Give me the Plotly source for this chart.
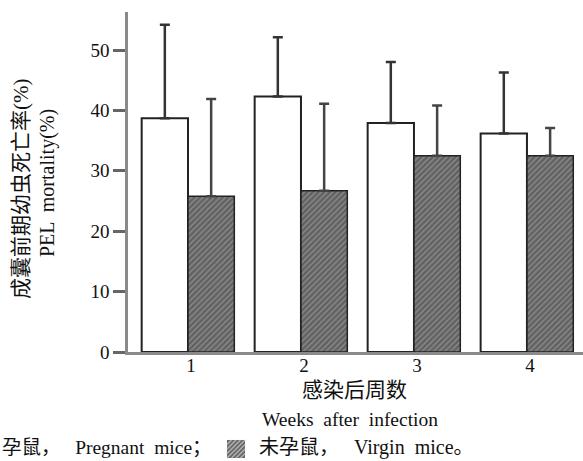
import plotly.graph_objects as go

weeks = [1, 2, 3, 4]
week_labels = ["1", "2", "3", "4"]
pregnant = [38.7, 42.3, 37.9, 36.2]
pregnant_err = [15.5, 9.8, 10.1, 10.1]
virgin = [25.8, 26.7, 32.5, 32.5]
virgin_err = [16.1, 14.4, 8.3, 4.6]

FONT = "Liberation Serif, Noto Sans CJK SC, serif"

W, H = 583, 461
L, R, T, B = 128, 0, 12, 109
pw = W - L - R
ph = H - T - B


def px(x):
    return (x - L) / pw


def py(y):
    return (H - B - y) / ph


fig = go.Figure()
fig.add_trace(go.Bar(
    x=weeks, y=pregnant, name="孕鼠， Pregnant mice",
    marker=dict(color="white", line=dict(color="#222", width=2)),
    error_y=dict(type="data", array=pregnant_err, symmetric=False,
                 arrayminus=[0] * 4, color="#333", thickness=2.5, width=5),
))
fig.add_trace(go.Bar(
    x=weeks, y=virgin, name="未孕鼠， Virgin mice",
    marker=dict(color="#636363", line=dict(color="#222", width=1.5),
                pattern=dict(shape="/", bgcolor="#626262", fgcolor="#bcbcbc",
                             size=4, solidity=0.3)),
    error_y=dict(type="data", array=virgin_err, symmetric=False,
                 arrayminus=[0] * 4, color="#444", thickness=2.5, width=5),
))

annotations = [
    dict(text="成囊前期幼虫死亡率(%)", x=px(21), y=py(189), textangle=-90,
         font=dict(size=21, family=FONT, color="#111")),
    dict(text="PEL  mortality(%)", x=px(47), y=py(183), textangle=-90,
         font=dict(size=20, family=FONT, color="#111")),
    dict(text="感染后周数", x=px(354), y=py(390),
         font=dict(size=21, family=FONT, color="#111")),
    dict(text="Weeks  after  infection", x=px(350), y=py(419),
         font=dict(size=19.5, family=FONT, color="#111")),
    dict(text="孕鼠，   Pregnant  mice；", x=px(0), y=py(448), xanchor="left",
         font=dict(size=19.5, family=FONT, color="#111")),
    dict(text="未孕鼠，   Virgin  mice。", x=px(257), y=py(448), xanchor="left",
         font=dict(size=20, family=FONT, color="#111")),
]
for a in annotations:
    a.setdefault("xanchor", "center")
    a.update(xref="paper", yref="paper", showarrow=False, yanchor="middle")

shapes = [dict(type="rect", xref="paper", yref="paper",
               x0=px(227), x1=px(245), y0=py(458), y1=py(440),
               fillcolor="#6a6a6a", line=dict(width=0))]
for k in range(-3, 5):
    x0 = 227 + k * 4.5
    shapes.append(dict(type="line", xref="paper", yref="paper",
                       x0=px(max(227, x0)), y0=py(458 - max(0, 227 - x0)),
                       x1=px(min(245, x0 + 18)), y1=py(440 + max(0, x0 + 18 - 245)),
                       line=dict(color="#b5b5b5", width=1.2)))

fig.update_layout(
    width=W, height=H,
    margin=dict(l=L, r=R, t=T, b=B),
    paper_bgcolor="white", plot_bgcolor="white",
    barmode="group", bargap=0.18, bargroupgap=0,
    showlegend=False,
    annotations=annotations,
    shapes=shapes,
    font=dict(family=FONT, size=19, color="#111"),
    xaxis=dict(range=[0.469, 4.496], tickvals=weeks, ticktext=week_labels,
               showline=True, linecolor="#8a8a8a", linewidth=2.5,
               ticks="", showgrid=False, zeroline=False,
               ticklabelstandoff=-6, ticklabelshift=3,
               tickfont=dict(size=19, family=FONT, color="#111")),
    yaxis=dict(range=[0, 56.3], tickvals=[0, 10, 20, 30, 40, 50],
               showline=True, linecolor="#8a8a8a", linewidth=2.5,
               ticks="outside", ticklen=12, tickwidth=2.5, tickcolor="#666",
               showgrid=False, zeroline=False,
               tickfont=dict(size=19, family=FONT, color="#111")),
)

fig.write_html("out.html", config={"displayModeBar": False},
               post_script="document.body.style.margin='0';document.body.style.overflow='hidden';")
